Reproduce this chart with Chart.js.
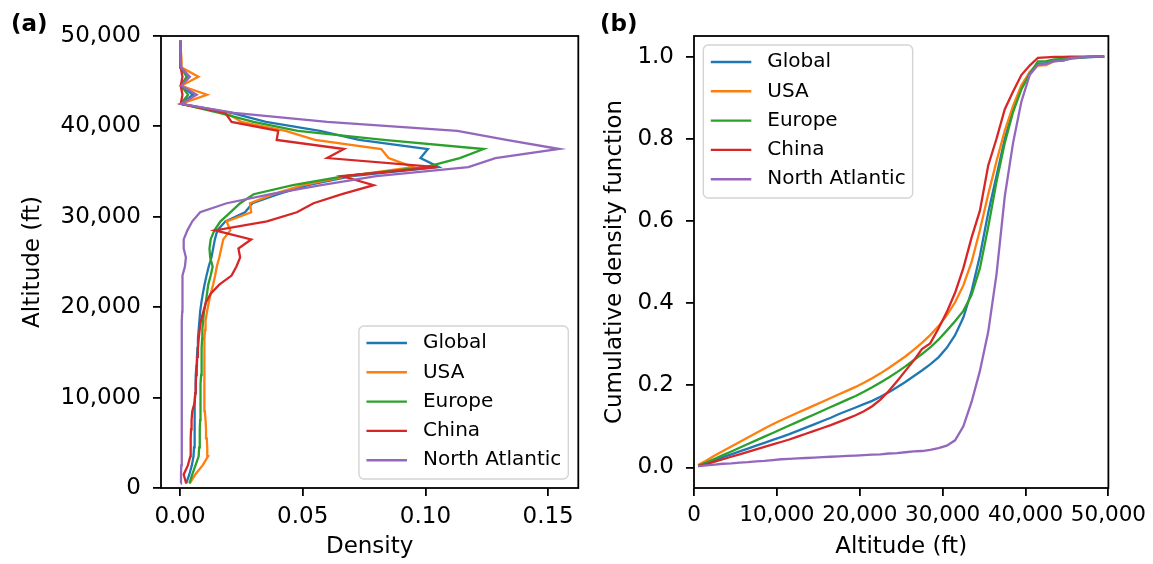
<!DOCTYPE html>
<html><head><meta charset="utf-8">
<script src="https://cdn.jsdelivr.net/npm/chart.js@4"></script>
<style>
html,body{margin:0;padding:0;background:#fff;}
body{width:1153px;height:564px;position:relative;overflow:hidden;}
.pane{position:absolute;top:0;}
</style></head><body>
<div class="pane" style="left:0;width:590px;height:564px"><canvas id="chartA" width="590" height="564" style="width:590px;height:564px"></canvas></div>
<div class="pane" style="left:590px;width:563px;height:564px"><canvas id="chartB" width="563" height="564" style="width:563px;height:564px"></canvas></div>
<script>
// ---------- data ----------
const regions = ['Global', 'USA', 'Europe', 'China', 'North Atlantic'];
const regionColors = ['#1f77b4', '#ff7f0e', '#2ca02c', '#d62728', '#9467bd'];

const altitudeLevels = [
  500, 1500, 2500, 3500, 4500, 5500, 6500, 7500, 8500, 9500,
  10500, 11500, 12500, 13500, 14500, 15500, 16500, 17500, 18500, 19500,
  20500, 21500, 22500, 23500, 24500, 25500, 26500, 27500, 28500, 29500,
  30500, 31500, 32500, 33500, 34500, 35500, 36500, 37500, 38500, 39500,
  40500, 41500, 42500, 43500, 44500, 45500, 46500, 47500, 48500, 49500
];

const globalDensity = [
  0.0025, 0.0038, 0.0048, 0.0055, 0.0057, 0.0058, 0.0059, 0.0060, 0.0060, 0.0061,
  0.0062, 0.0063, 0.0065, 0.0067, 0.0069, 0.0071, 0.0073, 0.0076, 0.0079, 0.0082,
  0.0087, 0.0093, 0.0100, 0.0108, 0.0117, 0.0128, 0.0135, 0.0142, 0.0152, 0.0185,
  0.0265, 0.0295, 0.0400, 0.0520, 0.0700, 0.1054, 0.0980, 0.1010, 0.0730, 0.0570,
  0.0350, 0.0210, 0.0003, 0.0053, 0.0005, 0.0037, 0.0005, 0.0003, 0.0002, 0.0001
];
const usaDensity = [
  0.0040, 0.0062, 0.0092, 0.0114, 0.0111, 0.0109, 0.0106, 0.0104, 0.0101, 0.0099,
  0.0098, 0.0098, 0.0099, 0.0099, 0.0100, 0.0100, 0.0101, 0.0102, 0.0104, 0.0110,
  0.0117, 0.0125, 0.0135, 0.0143, 0.0150, 0.0160, 0.0168, 0.0176, 0.0205, 0.0190,
  0.0290, 0.0285, 0.0380, 0.0500, 0.0680, 0.0950, 0.0850, 0.0820, 0.0550, 0.0430,
  0.0250, 0.0190, 0.0003, 0.0110, 0.0005, 0.0075, 0.0008, 0.0006, 0.0003, 0.0001
];
const europeDensity = [
  0.0038, 0.0050, 0.0063, 0.0076, 0.0078, 0.0080, 0.0081, 0.0082, 0.0082, 0.0083,
  0.0084, 0.0085, 0.0086, 0.0087, 0.0088, 0.0089, 0.0090, 0.0091, 0.0094, 0.0098,
  0.0105, 0.0110, 0.0115, 0.0125, 0.0133, 0.0123, 0.0120, 0.0125, 0.0140, 0.0165,
  0.0205, 0.0245, 0.0300, 0.0460, 0.0670, 0.1000, 0.1140, 0.1237, 0.0830, 0.0480,
  0.0300, 0.0160, 0.0003, 0.0033, 0.0004, 0.0027, 0.0004, 0.0002, 0.0001, 0.0001
];
const chinaDensity = [
  0.0025, 0.0015, 0.0032, 0.0042, 0.0043, 0.0044, 0.0045, 0.0047, 0.0050, 0.0060,
  0.0062, 0.0064, 0.0066, 0.0068, 0.0070, 0.0073, 0.0076, 0.0080, 0.0085, 0.0095,
  0.0105, 0.0125, 0.0160, 0.0210, 0.0230, 0.0245, 0.0238, 0.0290, 0.0143, 0.0354,
  0.0476, 0.0544, 0.0660, 0.0789, 0.0660, 0.1047, 0.0600, 0.0668, 0.0394, 0.0400,
  0.0210, 0.0184, 0.0003, 0.0010, 0.0003, 0.0010, 0.0003, 0.0003, 0.0002, 0.0001
];
const northAtlanticDensity = [
  0.0003, 0.0004, 0.0005, 0.0006, 0.0006, 0.0007, 0.0007, 0.0007, 0.0007, 0.0007,
  0.0007, 0.0007, 0.0007, 0.0007, 0.0007, 0.0008, 0.0008, 0.0008, 0.0008, 0.0009,
  0.0009, 0.0010, 0.0010, 0.0011, 0.0020, 0.0024, 0.0015, 0.0015, 0.0030, 0.0050,
  0.0082, 0.0190, 0.0370, 0.0575, 0.0800, 0.1175, 0.1285, 0.1545, 0.1330, 0.1130,
  0.0600, 0.0220, 0.0005, 0.0068, 0.0005, 0.0040, 0.0005, 0.0003, 0.0002, 0.0002
];

const globalCdf = [
  0.004, 0.011, 0.018, 0.025, 0.032, 0.039, 0.046, 0.053, 0.060, 0.067,
  0.074, 0.081, 0.089, 0.097, 0.105, 0.113, 0.121, 0.130, 0.138, 0.146,
  0.154, 0.162, 0.172, 0.183, 0.195, 0.208, 0.222, 0.236, 0.251, 0.268,
  0.291, 0.322, 0.365, 0.430, 0.515, 0.620, 0.710, 0.800, 0.870, 0.925,
  0.962, 0.983, 0.984, 0.989, 0.990, 0.995, 0.997, 0.998, 0.999, 1.000
];
const usaCdf = [
  0.006, 0.017, 0.029, 0.040, 0.051, 0.062, 0.073, 0.084, 0.095, 0.105,
  0.115, 0.124, 0.133, 0.142, 0.151, 0.160, 0.169, 0.178, 0.187, 0.196,
  0.206, 0.217, 0.229, 0.242, 0.256, 0.270, 0.286, 0.303, 0.322, 0.344,
  0.370, 0.402, 0.443, 0.500, 0.578, 0.665, 0.745, 0.820, 0.880, 0.930,
  0.962, 0.978, 0.979, 0.989, 0.990, 0.997, 0.998, 0.999, 1.000, 1.000
];
const europeCdf = [
  0.004, 0.012, 0.021, 0.030, 0.039, 0.048, 0.057, 0.066, 0.075, 0.084,
  0.093, 0.102, 0.111, 0.120, 0.129, 0.138, 0.147, 0.156, 0.165, 0.174,
  0.184, 0.195, 0.207, 0.219, 0.232, 0.246, 0.261, 0.276, 0.292, 0.311,
  0.333, 0.356, 0.381, 0.420, 0.485, 0.585, 0.695, 0.790, 0.865, 0.920,
  0.958, 0.988, 0.989, 0.993, 0.994, 0.997, 0.998, 0.999, 1.000, 1.000
];
const chinaCdf = [
  0.003, 0.008, 0.014, 0.020, 0.026, 0.032, 0.038, 0.044, 0.050, 0.056,
  0.062, 0.068, 0.075, 0.082, 0.089, 0.096, 0.103, 0.111, 0.119, 0.127,
  0.137, 0.149, 0.165, 0.186, 0.210, 0.235, 0.260, 0.288, 0.302, 0.338,
  0.378, 0.425, 0.485, 0.560, 0.625, 0.735, 0.800, 0.872, 0.915, 0.955,
  0.978, 0.997, 0.998, 0.999, 0.999, 1.000, 1.000, 1.000, 1.000, 1.000
];
const northAtlanticCdf = [
  0.003, 0.005, 0.007, 0.009, 0.010, 0.012, 0.013, 0.015, 0.016, 0.018,
  0.020, 0.021, 0.022, 0.023, 0.024, 0.025, 0.026, 0.027, 0.028, 0.029,
  0.030, 0.031, 0.032, 0.034, 0.035, 0.037, 0.039, 0.040, 0.043, 0.047,
  0.053, 0.066, 0.100, 0.160, 0.235, 0.330, 0.470, 0.660, 0.790, 0.890,
  0.955, 0.980, 0.982, 0.989, 0.990, 0.997, 0.998, 0.999, 1.000, 1.000
];

const densityTicks = [0, 0.05, 0.10, 0.15];
const densityTickLabels = ['0.00', '0.05', '0.10', '0.15'];
const altitudeTicks = [0, 10000, 20000, 30000, 40000, 50000];
const altitudeTickLabels = ['0', '10,000', '20,000', '30,000', '40,000', '50,000'];
const cdfTicks = [0, 0.2, 0.4, 0.6, 0.8, 1.0];
const cdfTickLabels = ['0.0', '0.2', '0.4', '0.6', '0.8', '1.0'];

const densitySeries = [globalDensity, usaDensity, europeDensity, chinaDensity, northAtlanticDensity];
const cdfSeries = [globalCdf, usaCdf, europeCdf, chinaCdf, northAtlanticCdf];

// ---------- style ----------
const FONT = "'DejaVu Sans', 'Liberation Sans', sans-serif";
Chart.defaults.font.family = FONT;
Chart.defaults.color = '#000';
const LEGEND_SIZE = 20;

const framePlugin = {
  id: 'frame',
  afterDatasetsDraw(chart) {
    const {ctx, chartArea: a} = chart;
    ctx.save();
    ctx.strokeStyle = '#000';
    ctx.lineWidth = 1.8;
    ctx.strokeRect(a.left, a.top, a.right - a.left, a.bottom - a.top);
    ctx.restore();
  }
};

const boxLegendPlugin = {
  id: 'boxLegend',
  afterDraw(chart, args, o) {
    const {ctx, chartArea: a} = chart;
    ctx.save();
    ctx.font = `${LEGEND_SIZE}px ${FONT}`;
    const names = regions;
    const tw = Math.max(...names.map(n => ctx.measureText(n).width));
    const w = 64 + tw + 7;
    const rowH = 29.3;
    const h = rowH * names.length + 6.5;
    const x = o.right ? a.right - o.dx - w : a.left + o.dx;
    const y = o.bottom ? a.bottom - o.dy - h : a.top + o.dy;
    const r = 5;
    ctx.beginPath();
    ctx.moveTo(x + r, y);
    ctx.arcTo(x + w, y, x + w, y + h, r);
    ctx.arcTo(x + w, y + h, x, y + h, r);
    ctx.arcTo(x, y + h, x, y, r);
    ctx.arcTo(x, y, x + w, y, r);
    ctx.closePath();
    ctx.fillStyle = 'rgba(255,255,255,0.8)';
    ctx.fill();
    ctx.strokeStyle = '#d4d4d4';
    ctx.lineWidth = 1.4;
    ctx.stroke();
    names.forEach((n, i) => {
      const cy = y + 17 + i * rowH;
      ctx.beginPath();
      ctx.moveTo(x + 7.5, cy);
      ctx.lineTo(x + 48, cy);
      ctx.strokeStyle = regionColors[i];
      ctx.lineWidth = 2.4;
      ctx.stroke();
      ctx.fillStyle = '#000';
      ctx.textBaseline = 'middle';
      ctx.textAlign = 'left';
      ctx.fillText(n, x + 64, cy);
    });
    ctx.restore();
  }
};

const panelLabelPlugin = {
  id: 'panelLabel',
  afterDraw(chart, args, o) {
    const ctx = chart.ctx;
    ctx.save();
    ctx.font = `bold 23px ${FONT}`;
    ctx.fillStyle = '#000';
    ctx.textBaseline = 'alphabetic';
    ctx.textAlign = 'left';
    ctx.fillText(o.text, o.x, o.y);
    ctx.restore();
  }
};

function makeAxis(cfg) {
  return {
    type: 'linear',
    position: cfg.position,
    min: cfg.min,
    max: cfg.max,
    afterBuildTicks: s => { s.ticks = cfg.ticks.map(v => ({value: v})); },
    afterFit: s => { if (cfg.position === 'left') s.width = cfg.size; else s.height = cfg.size; },
    ticks: {
      callback: (v, i) => cfg.labels[i],
      font: {size: cfg.tickSize},
      color: '#000',
      padding: cfg.position === 'left' ? 12 : 7,
      maxRotation: 0,
      autoSkip: false
    },
    grid: {display: true, drawOnChartArea: false, drawTicks: true, tickLength: 8, color: '#000', lineWidth: 1.8},
    border: {display: false},
    title: {
      display: true,
      text: cfg.title,
      font: {size: 23},
      color: '#000',
      padding: cfg.titlePad
    }
  };
}

function lineDatasets(series, xyFn) {
  return regions.map((r, i) => ({
    label: r,
    data: altitudeLevels.map((alt, k) => xyFn(alt, series[i][k])),
    borderColor: regionColors[i],
    backgroundColor: regionColors[i],
    borderWidth: 2.3,
    pointRadius: 0,
    showLine: true,
    fill: false,
    tension: 0,
    order: regions.length - i
  }));
}

const commonPlugins = {legend: {display: false}, tooltip: {enabled: false}};

new Chart(document.getElementById('chartA'), {
  type: 'scatter',
  data: {datasets: lineDatasets(densitySeries, (alt, d) => ({x: d, y: alt}))},
  options: {
    responsive: false,
    animation: false,
    events: [],
    layout: {padding: {left: 0, right: 11.7, top: 36, bottom: 0}, autoPadding: false},
    scales: {
      x: makeAxis({position: 'bottom', min: -0.00775, max: 0.1623, ticks: densityTicks, labels: densityTickLabels, tickSize: 23, title: 'Density', size: 76, titlePad: {top: 0, bottom: 3}}),
      y: makeAxis({position: 'left', min: 0, max: 50000, ticks: altitudeTicks, labels: altitudeTickLabels, tickSize: 23, title: 'Altitude (ft)', size: 161, titlePad: {top: 19, bottom: 0}})
    },
    plugins: Object.assign({}, commonPlugins, {
      boxLegend: {right: true, bottom: true, dx: 10, dy: 9},
      panelLabel: {text: '(a)', x: 11, y: 31}
    })
  },
  plugins: [framePlugin, boxLegendPlugin, panelLabelPlugin]
});

new Chart(document.getElementById('chartB'), {
  type: 'scatter',
  data: {datasets: lineDatasets(cdfSeries, (alt, c) => ({x: alt, y: c}))},
  options: {
    responsive: false,
    animation: false,
    events: [],
    layout: {padding: {left: 0, right: 41.5, top: 36, bottom: 0}, autoPadding: false},
    scales: {
      x: makeAxis({position: 'bottom', min: 0, max: 50000, ticks: altitudeTicks, labels: altitudeTickLabels, tickSize: 21.5, title: 'Altitude (ft)', size: 76, titlePad: {top: 0, bottom: 3}}),
      y: makeAxis({position: 'left', min: -0.05, max: 1.05, ticks: cdfTicks, labels: cdfTickLabels, tickSize: 23, title: 'Cumulative density function', size: 104, titlePad: {top: 11, bottom: 0}})
    },
    plugins: Object.assign({}, commonPlugins, {
      boxLegend: {right: false, bottom: false, dx: 9.3, dy: 9},
      panelLabel: {text: '(b)', x: 10, y: 31}
    })
  },
  plugins: [framePlugin, boxLegendPlugin, panelLabelPlugin]
});
</script>
</body></html>
